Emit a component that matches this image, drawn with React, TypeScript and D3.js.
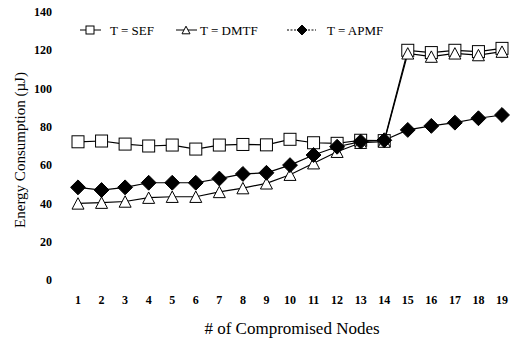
import React, { useRef, useEffect } from 'react';
import * as d3 from 'd3';

// x categories: number of compromised nodes
const nodes = [1, 2, 3, 4, 5, 6, 7, 8, 9, 10, 11, 12, 13, 14, 15, 16, 17, 18, 19];

// energy consumption (µJ) for each scheme
const sef = [72.2, 72.6, 71, 70, 70.5, 68.4, 70.5, 70.8, 70.6, 73.5, 71.7, 71.4, 73, 72.8, 120, 118.8, 120, 119.3, 121];
const dmtf = [40, 40.4, 41, 43, 43.5, 43.5, 46, 48, 50.5, 55, 61, 67, 71.7, 72.3, 118.4, 116.7, 118.4, 117.5, 119.3];
const apmf = [48.4, 47, 48.4, 50.8, 50.8, 50.8, 53, 55.4, 56, 60, 65.3, 69.6, 72.3, 73, 78.4, 80.5, 82.2, 84.5, 86.2];

const yTicks = [0, 20, 40, 60, 80, 100, 120, 140];

const seriesNames = ['T = SEF', 'T = DMTF', 'T = APMF'];

const font = "'Liberation Serif', 'DejaVu Serif', serif";

const App = () => {
  const svgRef = useRef(null);

  useEffect(() => {
    const svg = d3.select(svgRef.current);
    svg.selectAll('*').remove();

    const x = d3.scaleLinear().domain([1, 19]).range([78, 502]);
    const y = d3.scaleLinear().domain([0, 140]).range([280, 12]);

    // y tick labels (no axis line)
    svg.append('g')
      .selectAll('text')
      .data(yTicks)
      .enter().append('text')
      .attr('x', 52)
      .attr('y', d => y(d))
      .attr('dy', '0.35em')
      .attr('text-anchor', 'end')
      .style('font-family', font)
      .style('font-size', '12px')
      .style('font-weight', '600')
      .text(d => d);

    // x tick labels
    svg.append('g')
      .selectAll('text')
      .data(nodes)
      .enter().append('text')
      .attr('x', d => x(d))
      .attr('y', 300)
      .attr('dy', '0.35em')
      .attr('text-anchor', 'middle')
      .style('font-family', font)
      .style('font-size', '12px')
      .style('font-weight', '600')
      .text(d => d);

    const line = d3.line<number>()
      .x((d, i) => x(nodes[i]))
      .y(d => y(d));

    const drawMarker = (g, type, cx, cy, s) => {
      if (type === 0) {
        g.append('rect')
          .attr('x', cx - s / 2).attr('y', cy - s / 2)
          .attr('width', s).attr('height', s)
          .attr('fill', 'white').attr('stroke', 'black').attr('stroke-width', 1);
      } else if (type === 1) {
        const h = s * 0.95;
        g.append('path')
          .attr('d', `M${cx},${cy - h / 2}L${cx + s / 2},${cy + h / 2}L${cx - s / 2},${cy + h / 2}Z`)
          .attr('fill', 'white').attr('stroke', 'black').attr('stroke-width', 1);
      } else {
        const r = s * 0.62;
        g.append('path')
          .attr('d', `M${cx},${cy - r}L${cx + r},${cy}L${cx},${cy + r}L${cx - r},${cy}Z`)
          .attr('fill', 'black').attr('stroke', 'black').attr('stroke-width', 1);
      }
    };

    const series = [sef, dmtf, apmf];
    series.forEach(vals => {
      svg.append('path')
        .datum(vals)
        .attr('fill', 'none')
        .attr('stroke', 'black')
        .attr('stroke-width', 1.2)
        .attr('d', line);
    });
    series.forEach((vals, k) => {
      const g = svg.append('g');
      vals.forEach((v, i) => drawMarker(g, k, x(nodes[i]), y(v), 12));
    });

    // legend
    const legendPos = [
      { x1: 80, x2: 101, mx: 90, tx: 110 },
      { x1: 176, x2: 197, mx: 186, tx: 200 },
      { x1: 287, x2: 316, mx: 302, tx: 327 },
    ];
    const ly = 30;
    seriesNames.forEach((name, k) => {
      const p = legendPos[k];
      const g = svg.append('g');
      g.append('line')
        .attr('x1', p.x1).attr('x2', p.x2)
        .attr('y1', ly).attr('y2', ly)
        .attr('stroke', 'black').attr('stroke-width', 1)
        .attr('stroke-dasharray', k === 2 ? '2,1.5' : null);
      drawMarker(g, k, p.mx, ly, 8);
      g.append('text')
        .attr('x', p.tx).attr('y', ly)
        .attr('dy', '0.35em')
        .style('font-family', font)
        .style('font-size', '13px')
        .text(name);
    });

    // axis titles
    svg.append('text')
      .attr('transform', 'translate(20,150) rotate(-90)')
      .attr('text-anchor', 'middle')
      .attr('dy', '0.35em')
      .style('font-family', font)
      .style('font-size', '15px')
      .text('Energy Consumption (µJ)');

    svg.append('text')
      .attr('x', 292)
      .attr('y', 328)
      .attr('dy', '0.35em')
      .attr('text-anchor', 'middle')
      .style('font-family', font)
      .style('font-size', '17px')
      .text('# of Compromised Nodes');
  }, []);

  return (
    <svg ref={svgRef} width={516} height={343}
      style={{ position: 'absolute', left: 0, top: 0, background: 'white' }} />
  );
};

export default App;
